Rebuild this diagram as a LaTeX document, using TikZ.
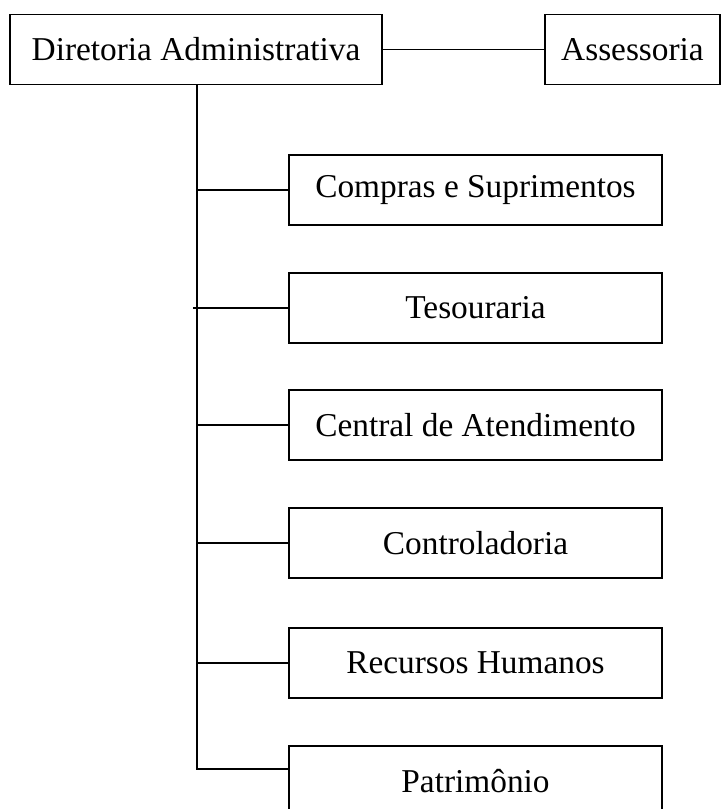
\documentclass[tikz,border=0pt]{standalone}
\usepackage{fontspec}
\setmainfont{Liberation Serif}
\usetikzlibrary{calc}
\tikzset{
	caixa/.style={draw, line width=0.7pt, inner sep=0pt, minimum height={70*0.36pt}, font=\fontsize{12}{14}\selectfont},
	setor/.style={caixa, minimum width={373*0.36pt}},
	ligacao/.style={line width=0.7pt}
}

\begin{document}
\begin{tikzpicture}[x=0.36pt, y=-0.36pt]
			%%%%% START %%%%%
			\useasboundingbox (0, 0) rectangle (722, 809);
			
			\node[caixa, minimum width={372*0.36pt}] (diretoria) at (196, 49.5) {Diretoria Administrativa};
			\node[caixa, minimum width={175*0.36pt}] (assessoria) at (632.5, 49.5) {Assessoria};
			\draw[ligacao] (diretoria.east) -- (assessoria.west);
			
			\node[setor] (compras) at (475.5, 190) {Compras e Suprimentos};
			\node[setor] (tesouraria) at (475.5, 308) {Tesouraria};
			\node[setor] (central) at (475.5, 425) {Central de Atendimento};
			\node[setor] (controladoria) at (475.5, 543) {Controladoria};
			\node[setor] (rh) at (475.5, 663) {Recursos Humanos};
			\node[setor] (patrimonio) at (475.5, 781) {Patrimônio};
			
			\coordinate (tronco) at (197, 84.5);
			\coordinate (pj) at ($(patrimonio.north west)!0.33!(patrimonio.south west)$);
			\draw[ligacao] (tronco) |- (pj);
			\draw[ligacao] (tronco |- compras.west) -- (compras.west);
			\draw[ligacao] ([xshift=-1.5pt]tronco |- tesouraria.west) -- (tesouraria.west);
			\draw[ligacao] (tronco |- central.west) -- (central.west);
			\draw[ligacao] (tronco |- controladoria.west) -- (controladoria.west);
			\draw[ligacao] (tronco |- rh.west) -- (rh.west);
			
			%%%%% END %%%%%
\end{tikzpicture}
\end{document}
